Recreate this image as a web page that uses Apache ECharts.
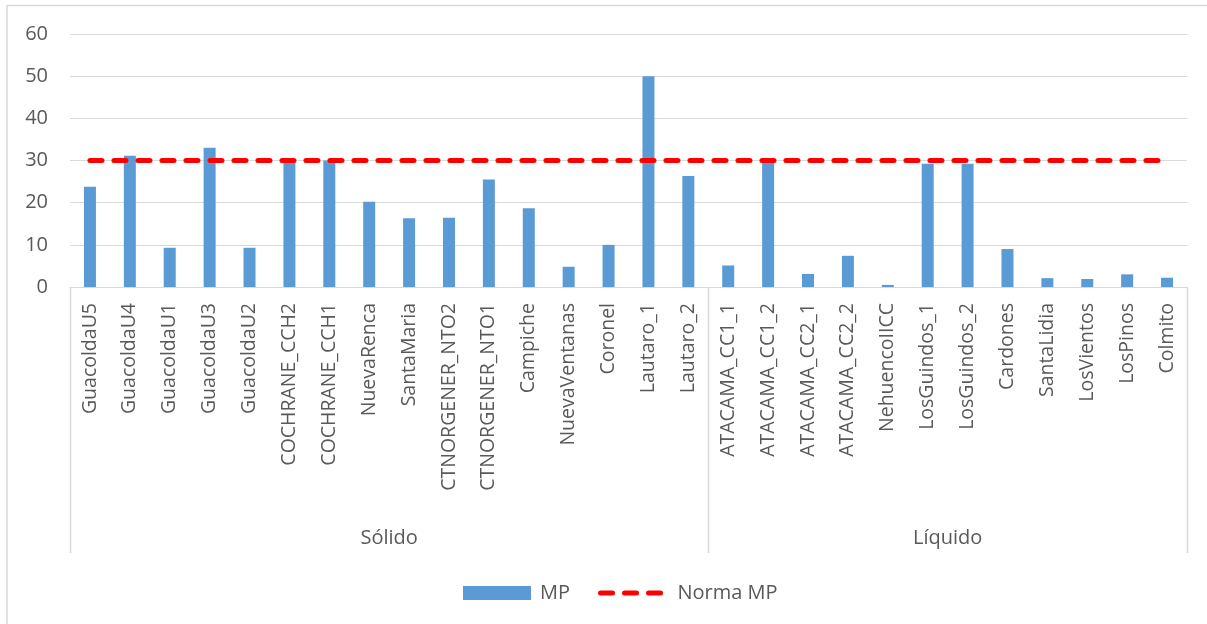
<!DOCTYPE html>
<html>
<head>
<meta charset="utf-8">
<script src="https://cdn.jsdelivr.net/npm/echarts@6/dist/echarts.min.js"></script>
<style>
  html, body { margin: 0; padding: 0; background: #ffffff; }
  #chart { width: 1207px; height: 624px; }
</style>
</head>
<body>
<div id="chart"></div>
<script>
// Plant units (first level of the category axis)
const categories = [
  'GuacoldaU5', 'GuacoldaU4', 'GuacoldaU1', 'GuacoldaU3', 'GuacoldaU2',
  'COCHRANE_CCH2', 'COCHRANE_CCH1', 'NuevaRenca', 'SantaMaria',
  'CTNORGENER_NTO2', 'CTNORGENER_NTO1', 'Campiche', 'NuevaVentanas',
  'Coronel', 'Lautaro_1', 'Lautaro_2',
  'ATACAMA_CC1_1', 'ATACAMA_CC1_2', 'ATACAMA_CC2_1', 'ATACAMA_CC2_2',
  'NehuencoIICC', 'LosGuindos_1', 'LosGuindos_2', 'Cardones',
  'SantaLidia', 'LosVientos', 'LosPinos', 'Colmito'
];

// Fuel groups (second level of the category axis)
const groupNames = ['Sólido', 'Líquido'];
const groupSizes = [16, 12];

// Measured particulate matter
const mpValues = [
  23.8, 31.1, 9.3, 33.0, 9.3,
  30.0, 30.0, 20.2, 16.3,
  16.4, 25.5, 18.7, 4.8,
  10.0, 50.0, 26.3,
  5.1, 29.7, 3.1, 7.4,
  0.5, 29.2, 29.2, 9.0,
  2.1, 1.9, 3.0, 2.2
];

// Emission standard for MP
const normaValues = [
  30, 30, 30, 30, 30, 30, 30, 30, 30, 30, 30, 30, 30, 30,
  30, 30, 30, 30, 30, 30, 30, 30, 30, 30, 30, 30, 30, 30
];

const yTicks = { min: 0, max: 60, interval: 10 };

const FONT = '"Open Sans", "DejaVu Sans", sans-serif';
const TEXT = '#595959';
const GRID = '#d9d9d9';
const RED = '#ff0000';
const DASH = { color: RED, width: 5, type: [12, 12], cap: 'round' };

const chart = echarts.init(document.getElementById('chart'), null, { renderer: 'canvas' });

chart.setOption({
  animation: false,
  backgroundColor: '#ffffff',
  textStyle: { fontFamily: FONT, color: TEXT },
  grid: { left: 70, right: 20, top: 34, bottom: 337, containLabel: false },
  legend: {
    left: 458,
    top: 578,
    itemWidth: 68,
    itemHeight: 14,
    itemGap: 28,
    textStyle: { fontFamily: FONT, fontSize: 20, color: TEXT, padding: [0, 0, 0, 4] },
    data: [
      { name: 'MP', icon: 'rect' },
      { name: 'Norma MP', itemStyle: { opacity: 0 }, lineStyle: DASH }
    ]
  },
  xAxis: {
    type: 'category',
    data: categories,
    boundaryGap: true,
    axisLine: { show: true, lineStyle: { color: GRID, width: 1 } },
    axisTick: { show: false },
    axisLabel: {
      interval: 0,
      rotate: 90,
      margin: 16,
      fontFamily: FONT,
      fontSize: 19.5,
      color: TEXT
    },
    splitLine: { show: false }
  },
  yAxis: {
    type: 'value',
    min: yTicks.min,
    max: yTicks.max,
    interval: yTicks.interval,
    axisLine: { show: false },
    axisTick: { show: false },
    axisLabel: { margin: 22, fontFamily: FONT, fontSize: 20, color: TEXT },
    splitLine: { show: true, lineStyle: { color: GRID, width: 1 } }
  },
  series: [
    {
      name: 'MP',
      type: 'bar',
      data: mpValues,
      barWidth: 12,
      itemStyle: { color: '#5b9bd5' }
    },
    {
      name: 'Norma MP',
      type: 'line',
      data: normaValues,
      showSymbol: false,
      symbol: 'none',
      itemStyle: { color: RED },
      lineStyle: DASH,
      z: 3
    }
  ]
});

// Group dividers and group names under the unit labels
function drawGroups() {
  const c0 = chart.convertToPixel({ xAxisIndex: 0 }, 0);
  const c1 = chart.convertToPixel({ xAxisIndex: 0 }, 1);
  const band = c1 - c0;
  const yAxis0 = chart.convertToPixel({ yAxisIndex: 0 }, 0);
  const lineBottom = 553;
  const graphics = [];

  // outer frame (top and left edges)
  graphics.push({ type: 'line', shape: { x1: 7, y1: 5.5, x2: 1207, y2: 5.5 },
    style: { stroke: GRID, lineWidth: 1.5 }, silent: true });
  graphics.push({ type: 'line', shape: { x1: 7, y1: 5, x2: 7, y2: 624 },
    style: { stroke: GRID, lineWidth: 1.5 }, silent: true });

  let start = 0;
  const bounds = [c0 - band / 2];
  groupSizes.forEach(function (n) {
    start += n;
    bounds.push(c0 - band / 2 + start * band);
  });
  bounds.forEach(function (x) {
    graphics.push({ type: 'line',
      shape: { x1: Math.round(x) + 0.5, y1: yAxis0, x2: Math.round(x) + 0.5, y2: lineBottom },
      style: { stroke: GRID, lineWidth: 1.5 }, silent: true });
  });
  groupNames.forEach(function (name, i) {
    graphics.push({ type: 'text',
      x: (bounds[i] + bounds[i + 1]) / 2, y: 538,
      style: { text: name, fill: TEXT, font: '20px ' + FONT, align: 'center', verticalAlign: 'middle' },
      silent: true });
  });
  chart.setOption({ graphic: graphics });
}
drawGroups();
</script>
</body>
</html>
